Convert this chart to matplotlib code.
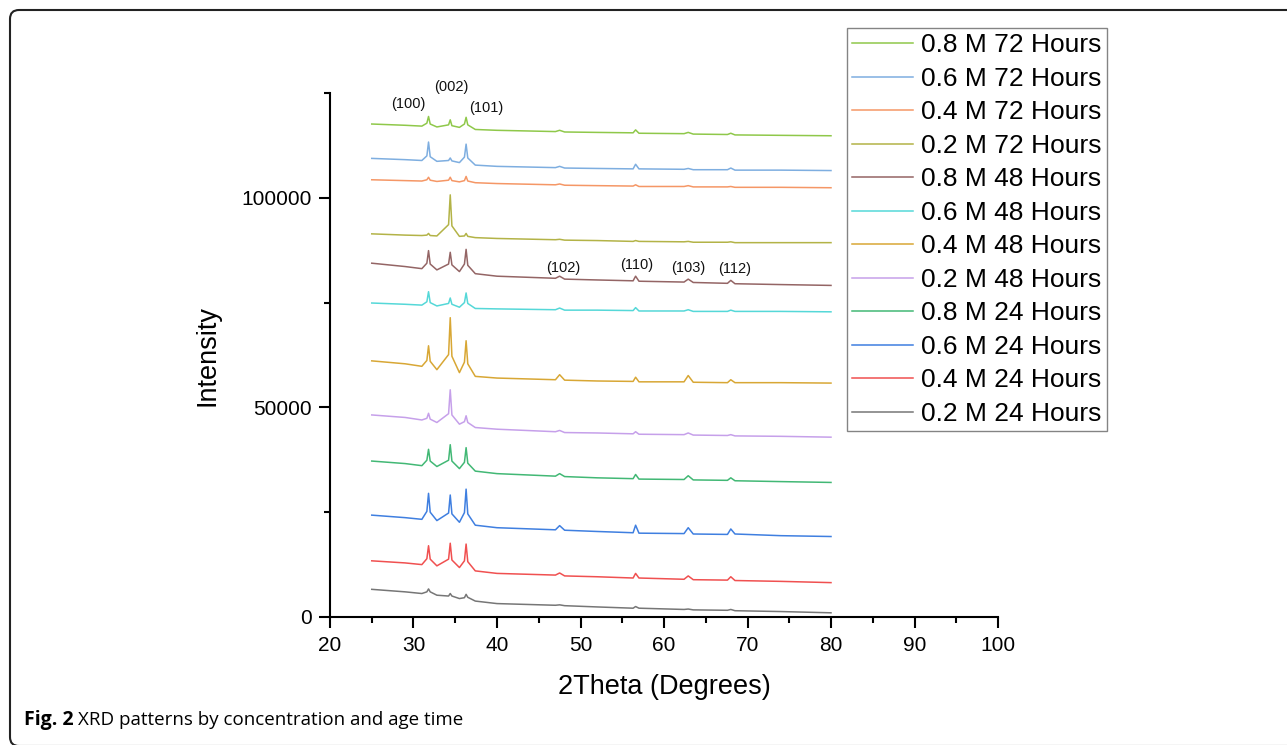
import matplotlib
matplotlib.use("Agg")
import matplotlib.pyplot as plt
import numpy as np
from matplotlib.patches import FancyBboxPatch
from matplotlib.transforms import IdentityTransform
from matplotlib.ticker import MultipleLocator

plt.rcParams['font.family'] = ['Liberation Sans', 'DejaVu Sans']

# shared 2theta sample positions (degrees)
two_theta = [25, 29, 31.0, 31.6, 31.8, 32.0, 32.8, 34.2, 34.4, 34.6, 35.5, 36.1, 36.3, 36.5,
             37.4, 40, 47.0, 47.5, 48.1, 52, 56.3, 56.6, 57.0, 62.4, 62.9, 63.5, 67.6, 68.0,
             68.5, 74, 80]

# intensities in thousands of counts
m02_24 = [6.6, 6.0, 5.6, 6.0, 6.7, 6.0, 5.2, 5.0, 5.6, 5.0, 4.4, 4.6, 5.4, 4.7, 3.8, 3.2, 2.8, 2.9,
          2.7, 2.4, 2.1, 2.5, 2.1, 1.8, 1.9, 1.7, 1.6, 1.8, 1.5, 1.3, 1.0]
m04_24 = [13.4, 12.9, 12.5, 13.9, 17.0, 13.8, 12.2, 13.8, 17.6, 13.6, 11.8, 13.4, 17.4, 13.2, 11.0,
          10.4, 10.0, 10.5, 9.8, 9.6, 9.3, 10.4, 9.3, 9.0, 9.8, 8.9, 8.8, 9.6, 8.7, 8.5, 8.2]
m06_24 = [24.3, 23.7, 23.3, 25.2, 29.5, 25.0, 23.0, 24.8, 29.1, 24.6, 22.6, 24.9, 30.5, 24.6, 21.9,
          21.3, 20.8, 21.8, 20.7, 20.4, 20.1, 21.9, 20.0, 19.9, 21.3, 19.8, 19.7, 21.0, 19.8, 19.4, 19.2]
m08_24 = [37.2, 36.6, 36.1, 37.4, 40.0, 37.2, 35.9, 37.4, 41.1, 37.2, 35.4, 36.9, 40.4, 36.7, 34.8,
          34.2, 33.6, 34.2, 33.5, 33.2, 33.0, 34.0, 32.9, 32.8, 33.7, 32.7, 32.6, 33.2, 32.5, 32.3, 32.1]
m02_48 = [48.2, 47.6, 47.0, 47.4, 48.6, 47.2, 46.4, 48.5, 54.2, 48.2, 46.0, 46.6, 48.0, 46.4, 45.2,
          44.8, 44.2, 44.5, 44.0, 43.9, 43.7, 44.2, 43.6, 43.5, 43.9, 43.4, 43.3, 43.5, 43.2, 43.1, 42.9]
m04_48 = [61.1, 60.4, 59.8, 61.2, 64.7, 61.0, 59.0, 62.6, 71.4, 62.2, 58.3, 60.8, 65.9, 60.4, 57.4,
          57.0, 56.6, 57.8, 56.5, 56.3, 56.2, 57.2, 56.1, 56.1, 57.6, 56.0, 55.9, 56.6, 55.9, 55.9, 55.8]
m06_48 = [74.9, 74.6, 74.4, 75.2, 77.6, 75.0, 74.2, 74.8, 76.1, 74.6, 73.9, 75.0, 77.3, 74.8, 73.6,
          73.5, 73.3, 73.7, 73.2, 73.2, 73.1, 73.8, 73.0, 73.0, 73.3, 72.9, 72.9, 73.2, 72.9, 72.9, 72.8]
m08_48 = [84.4, 83.6, 83.1, 84.4, 87.4, 84.2, 82.8, 84.2, 87.0, 84.0, 82.4, 84.2, 87.7, 83.9, 81.9,
          81.3, 80.8, 81.3, 80.6, 80.4, 80.2, 81.3, 80.1, 79.9, 80.6, 79.8, 79.6, 80.3, 79.5, 79.3, 79.1]
m02_72 = [91.4, 91.1, 91.0, 91.1, 91.5, 91.0, 90.9, 93.6, 100.7, 93.3, 90.8, 90.9, 91.5, 90.8, 90.5,
          90.3, 90.0, 90.1, 89.9, 89.8, 89.6, 89.8, 89.6, 89.5, 89.6, 89.4, 89.4, 89.5, 89.3, 89.3, 89.3]
m04_72 = [104.3, 104.1, 104.0, 104.3, 104.9, 104.2, 103.9, 104.2, 104.9, 104.1, 103.8, 104.1, 105.1,
          104.0, 103.6, 103.4, 103.1, 103.3, 103.0, 102.9, 102.8, 103.1, 102.7, 102.7, 102.9, 102.6,
          102.6, 102.7, 102.5, 102.5, 102.4]
m06_72 = [109.4, 109.1, 108.9, 110.0, 113.3, 109.8, 108.7, 108.9, 109.5, 108.8, 108.4, 109.7, 112.8,
          109.5, 107.8, 107.5, 107.2, 107.5, 107.1, 107.0, 106.9, 108.0, 106.9, 106.8, 107.0, 106.7,
          106.7, 107.1, 106.6, 106.6, 106.5]
m08_72 = [117.6, 117.3, 117.1, 117.8, 119.4, 117.6, 116.9, 117.4, 118.6, 117.2, 116.8, 117.6, 119.2,
          117.4, 116.3, 116.1, 115.8, 116.1, 115.7, 115.6, 115.5, 116.2, 115.4, 115.3, 115.6, 115.2,
          115.1, 115.4, 115.0, 114.9, 114.8]

labels = ["0.8 M 72 Hours", "0.6 M 72 Hours", "0.4 M 72 Hours", "0.2 M 72 Hours",
          "0.8 M 48 Hours", "0.6 M 48 Hours", "0.4 M 48 Hours", "0.2 M 48 Hours",
          "0.8 M 24 Hours", "0.6 M 24 Hours", "0.4 M 24 Hours", "0.2 M 24 Hours"]
series = [m08_72, m06_72, m04_72, m02_72, m08_48, m06_48, m04_48, m02_48,
          m08_24, m06_24, m04_24, m02_24]
colors = ["#8fc84a", "#7eaee0", "#f59766", "#b3b347", "#946565", "#55d8d8", "#d8a735", "#c6a0ea",
          "#42b875", "#3f7fe0", "#f05050", "#767676"]

peak_labels = ["(100)", "(002)", "(101)", "(102)", "(110)", "(103)", "(112)"]
peak_label_x = [29.4, 34.5, 38.7, 47.9, 56.7, 62.9, 68.5]
peak_label_y = [122400, 126500, 121500, 83300, 84000, 83300, 83100]

W, H = 1287, 745
fig = plt.figure(figsize=(W / 100, H / 100), dpi=100)
ax = fig.add_axes([330 / W, 1 - 617 / H, 668 / W, 524 / H])

x = np.array(two_theta)
for lab, ys, c in zip(labels, series, colors):
    ax.plot(x, np.array(ys) * 1000, color=c, lw=1.1, label=lab)

for t, px, py in zip(peak_labels, peak_label_x, peak_label_y):
    ax.text(px, py, t, ha='center', va='center', fontsize=10.5, color='#111111', clip_on=False)

ax.set_xlim(20, 100)
ax.set_ylim(0, 125000)
ax.xaxis.set_major_locator(MultipleLocator(10))
ax.xaxis.set_minor_locator(MultipleLocator(5))
ax.yaxis.set_major_locator(MultipleLocator(50000))
ax.yaxis.set_minor_locator(MultipleLocator(25000))
for s in ['top', 'right']:
    ax.spines[s].set_visible(False)
for s in ['left', 'bottom']:
    ax.spines[s].set_linewidth(1.5)
ax.tick_params(which='major', direction='out', length=8, width=1.5, labelsize=15)
ax.tick_params(axis='y', which='major', pad=5)
ax.tick_params(axis='x', which='major', pad=6)
ax.tick_params(which='minor', direction='out', length=4.5, width=1.5)
ax.set_xlabel("2Theta (Degrees)", fontsize=19.5, labelpad=13)
ax.set_ylabel("Intensity", fontsize=19.5, labelpad=15)

leg = ax.legend(loc='upper left', bbox_to_anchor=(847 / W, 1 - 28 / H), bbox_transform=fig.transFigure,
                borderaxespad=0, fontsize=19, frameon=True, fancybox=False, handlelength=2.3,
                handletextpad=0.3, borderpad=0.2, labelspacing=0.36)
leg.get_frame().set_edgecolor('#666666')
leg.get_frame().set_linewidth(1.0)

# outer rounded frame
frame = FancyBboxPatch((10, -1), 1400, 736, boxstyle="round,pad=0,rounding_size=9",
                       transform=IdentityTransform(), fill=False, edgecolor='#222222', lw=1.5,
                       figure=fig)
fig.patches.append(frame)

t1 = fig.text(24 / W, 1 - 720 / H, "Fig. 2", family='Open Sans', fontweight='bold', fontsize=14,
              va='center', ha='left')
fig.canvas.draw()
bb = t1.get_window_extent()
fig.text((bb.x1 + 4) / W, 1 - 720 / H, "XRD patterns by concentration and age time",
         family='Open Sans', fontsize=13.5, va='center', ha='left')

fig.savefig("out.png", dpi=100)
